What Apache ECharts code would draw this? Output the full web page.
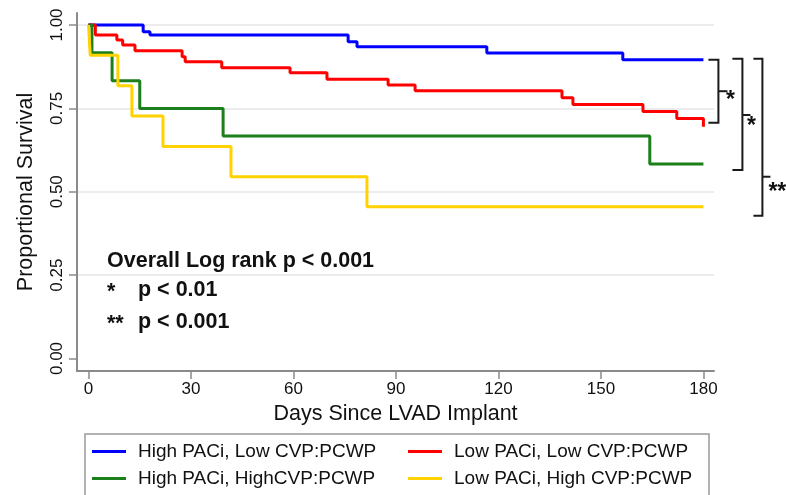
<!DOCTYPE html>
<html>
<head>
<meta charset="utf-8">
<script src="https://cdn.jsdelivr.net/npm/echarts@6/dist/echarts.min.js"></script>
<style>html,body{margin:0;padding:0;background:#fff}#c{width:786px;height:495px}</style>
</head>
<body>
<div id="c"></div>
<script>
// ---- data ----
const seriesNames = ['High PACi, Low CVP:PCWP', 'Low PACi, Low CVP:PCWP', 'High PACi, HighCVP:PCWP', 'Low PACi, High CVP:PCWP'];
const seriesColors = ['#0000ff', '#ff0000', '#1b7f1b', '#ffd200'];

const blueDays = [0, 16, 18, 76, 78.6, 116.6, 156.4, 180];
const blueSurv = [1, 0.98, 0.97, 0.95, 0.935, 0.916, 0.896, 0.896];

const redDays = [0, 2, 8.3, 10, 13.6, 27.4, 28.3, 39, 59, 69.8, 87.7, 95.6, 138.6, 141.8, 162.3, 172.2, 180];
const redSurv = [1, 0.97, 0.955, 0.94, 0.923, 0.905, 0.89, 0.872, 0.857, 0.837, 0.82, 0.803, 0.782, 0.762, 0.741, 0.72, 0.695];

const greenDays = [0, 1, 6.9, 15, 39.4, 164.3, 180];
const greenSurv = [1, 0.917, 0.833, 0.75, 0.667, 0.583, 0.583];

const yellowDays = [0, 0.5, 8.6, 12.7, 21.8, 41.7, 81.5, 180];
const yellowSurv = [1, 0.909, 0.818, 0.727, 0.636, 0.545, 0.455, 0.455];

const xTicks = [0, 30, 60, 90, 120, 150, 180];
const yTicks = [0, 0.25, 0.5, 0.75, 1];
const yGrid = [0.25, 0.5, 0.75, 1];

const annotLines = ['Overall Log rank p < 0.001', 'p < 0.01', 'p < 0.001'];
const annotMarks = ['', '*', '**'];

// ---- chart ----
const FONT = '"Liberation Sans", Arial, Helvetica, sans-serif';
const zip = (a, b) => a.map((v, i) => [v, b[i]]);
const curves = [zip(blueDays, blueSurv), zip(redDays, redSurv), zip(greenDays, greenSurv), zip(yellowDays, yellowSurv)];

const chart = echarts.init(document.getElementById('c'), null, {renderer: 'canvas'});

const series = [{
  type: 'line', data: [], z: 0, silent: true, symbol: 'none',
  markLine: {
    z: 0, silent: true, symbol: 'none', label: {show: false},
    lineStyle: {color: '#e6e6e6', width: 1.5, type: 'solid'},
    emphasis: {disabled: true},
    data: yGrid.map(v => ({yAxis: v}))
  }
}];
curves.forEach((d, i) => series.push({
  name: seriesNames[i], type: 'line', step: 'end', data: d,
  symbol: 'none', showSymbol: false, color: seriesColors[i],
  lineStyle: {width: 3, color: seriesColors[i]}, z: 3 + i, silent: true
}));

const legendCommon = {
  orient: 'vertical', top: 442, padding: 0, itemWidth: 34, itemHeight: 3, itemGap: 8,
  icon: 'rect', selectedMode: false,
  textStyle: {fontFamily: FONT, fontSize: 19, color: '#111', padding: [0, 0, 0, 7]}
};

const option = {
  animation: false,
  backgroundColor: '#fff',
  grid: {left: 77, right: 72, top: 13, bottom: 124, containLabel: false},
  xAxis: {
    type: 'value', min: -3.37, max: 183.1,
    name: 'Days Since LVAD Implant', nameLocation: 'middle', nameGap: 29,
    nameTextStyle: {fontFamily: FONT, fontSize: 21.5, color: '#111'},
    axisLine: {show: true, onZero: false, lineStyle: {color: '#8a8a8a', width: 2}},
    axisTick: {show: true, length: 8, customValues: xTicks, lineStyle: {color: '#8a8a8a', width: 1.5}},
    axisLabel: {customValues: xTicks, margin: 10, fontFamily: FONT, fontSize: 17, color: '#111'},
    splitLine: {show: false}
  },
  yAxis: {
    type: 'value', min: -0.0375, max: 1.036,
    name: 'Proportional Survival', nameLocation: 'middle', nameGap: 40, nameRotate: 90,
    nameTextStyle: {fontFamily: FONT, fontSize: 21.5, color: '#111'},
    axisLine: {show: true, onZero: false, lineStyle: {color: '#8a8a8a', width: 2}},
    axisTick: {show: true, length: 8, customValues: yTicks, lineStyle: {color: '#8a8a8a', width: 1.5}},
    axisLabel: {customValues: yTicks, rotate: 90, margin: 11, fontFamily: FONT, fontSize: 17, color: '#111',
      formatter: v => Number(v).toFixed(2)},
    splitLine: {show: false}
  },
  legend: [
    Object.assign({}, legendCommon, {left: 92, data: [seriesNames[0], seriesNames[2]]}),
    Object.assign({}, legendCommon, {left: 408, data: [seriesNames[1], seriesNames[3]]})
  ],
  series: series
};
chart.setOption(option);

// ---- annotations positioned from the axes ----
const toPx = (d, v) => chart.convertToPixel({gridIndex: 0}, [d, v]);
const endX = toPx(180, 0)[0];
const last = a => a[a.length - 1];
const yB = toPx(0, last(blueSurv))[1];
const yR = toPx(0, last(redSurv))[1];
const yG = toPx(0, last(greenSurv))[1];
const yY = toPx(0, last(yellowSurv))[1];

const els = [];
const stroke = {stroke: '#1a1a1a', lineWidth: 2, fill: null};
function bracket(x0, x1, top, bot, tickY, tickLen) {
  els.push({type: 'polyline', silent: true, shape: {points: [[x0, top], [x1, top], [x1, bot], [x0, bot]]}, style: stroke});
  els.push({type: 'line', silent: true, shape: {x1: x1, y1: tickY, x2: x1 + tickLen, y2: tickY}, style: stroke});
}
bracket(endX + 5, endX + 15, yB, yR - 4, (yB + yR - 4) / 2, 9);
bracket(endX + 29, endX + 39, yB - 1, yG + 6, 115, 8);
bracket(endX + 50, endX + 59, yB - 1, yY + 9, yB + 0.75 * (yY + 9 - yB), 8);

const starFont = 'bold 23px ' + FONT;
els.push({type: 'text', silent: true, style: {text: '*', x: endX + 27, y: 101, font: starFont, fill: '#111', align: 'center', verticalAlign: 'middle'}});
els.push({type: 'text', silent: true, style: {text: '*', x: endX + 48, y: 127, font: starFont, fill: '#111', align: 'center', verticalAlign: 'middle'}});
els.push({type: 'text', silent: true, style: {text: '**', x: endX + 65, y: 193, font: starFont, fill: '#111', align: 'left', verticalAlign: 'middle'}});

const annFont = 'bold 21.5px ' + FONT;
els.push({type: 'text', silent: true, style: {text: annotLines[0], x: 107, y: 261, font: annFont, fill: '#111', verticalAlign: 'middle'}});
els.push({type: 'text', silent: true, style: {text: annotMarks[1], x: 107, y: 292, font: annFont, fill: '#111', verticalAlign: 'middle'}});
els.push({type: 'text', silent: true, style: {text: annotLines[1], x: 138, y: 290, font: annFont, fill: '#111', verticalAlign: 'middle'}});
els.push({type: 'text', silent: true, style: {text: annotMarks[2], x: 107, y: 324, font: annFont, fill: '#111', verticalAlign: 'middle'}});
els.push({type: 'text', silent: true, style: {text: annotLines[2], x: 138, y: 322, font: annFont, fill: '#111', verticalAlign: 'middle'}});

// legend frame
els.push({type: 'rect', silent: true, z: -1, shape: {x: 85, y: 434, width: 624, height: 80}, style: {stroke: '#9a9a9a', lineWidth: 1.5, fill: null}});

chart.setOption({graphic: {elements: els}});
</script>
</body>
</html>
